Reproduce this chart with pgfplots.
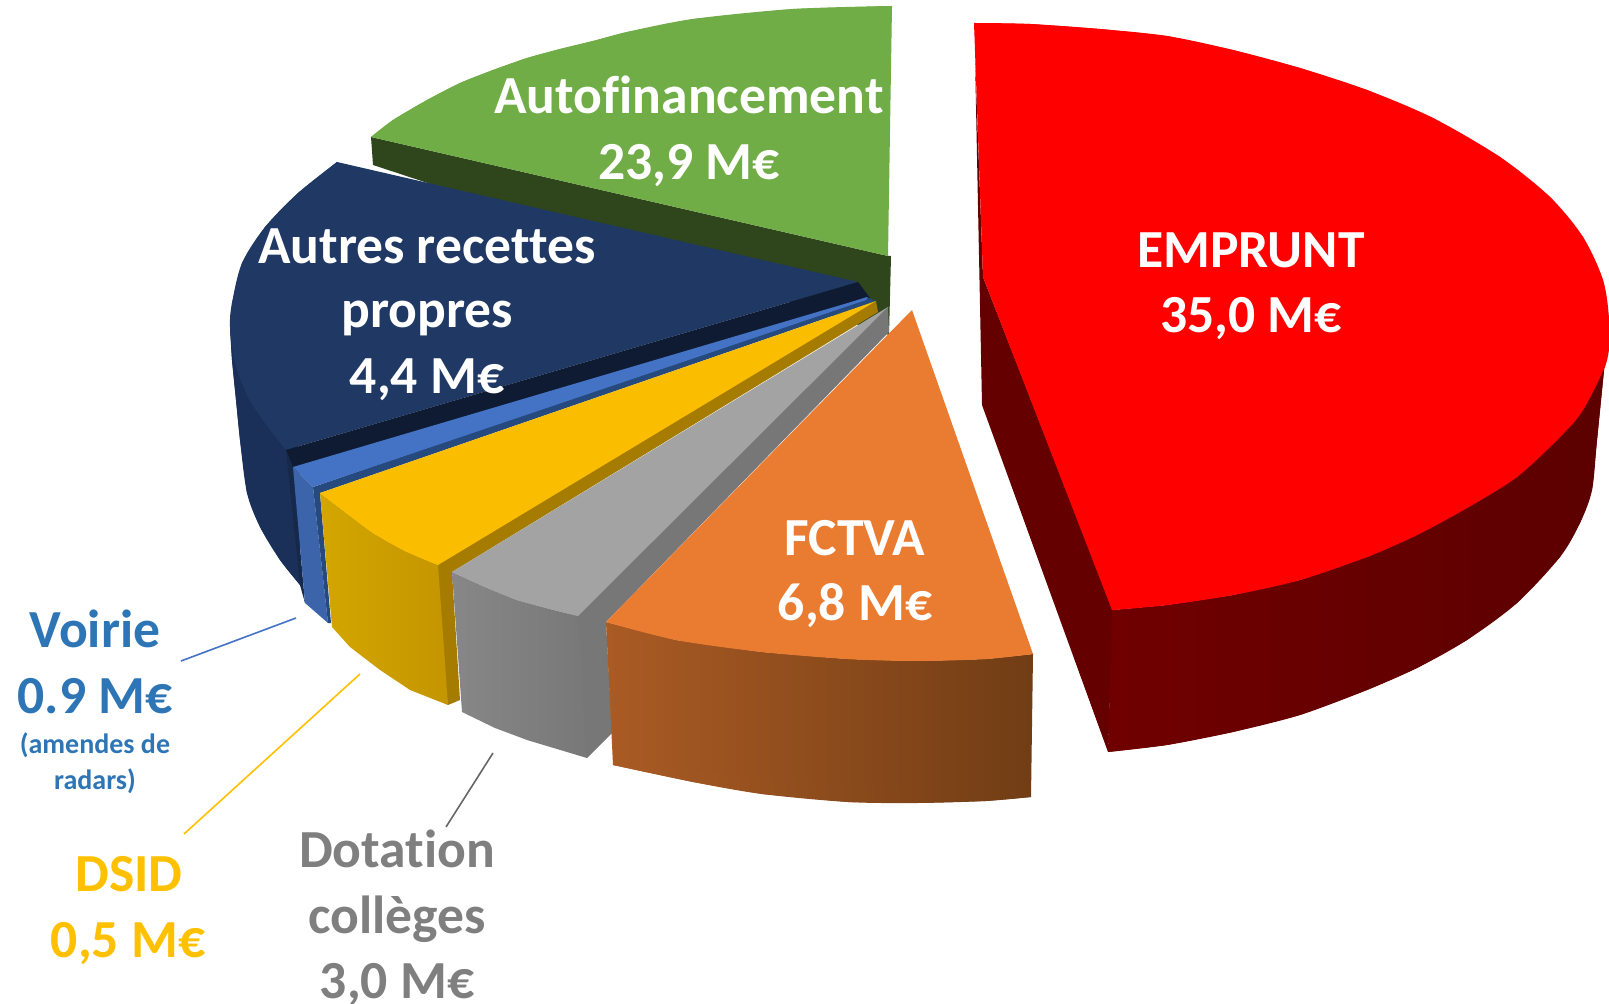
\documentclass[border=0pt]{standalone}
\usepackage{pgfplots}
\pgfplotsset{compat=1.18}
\usepackage{fontspec}
\setmainfont{Carlito}[Ligatures=NoCommon]
\definecolor{cgreen}{HTML}{70AD47}
\definecolor{cgreenw}{HTML}{2F451C}
\definecolor{cnavy}{HTML}{1F3864}
\definecolor{cnavys}{HTML}{1B3059}
\definecolor{cnavyf}{HTML}{16294A}
\definecolor{cnavyd}{HTML}{0E1B33}
\definecolor{cblue}{HTML}{4472C4}
\definecolor{cblues}{HTML}{3C64AA}
\definecolor{cbluew}{HTML}{264A7D}
\definecolor{cyel}{HTML}{FBBD00}
\definecolor{cyell}{HTML}{D4A600}
\definecolor{cyelr}{HTML}{C49500}
\definecolor{cyeld}{HTML}{A67C00}
\definecolor{cgrey}{HTML}{A3A3A3}
\definecolor{cgreyl}{HTML}{878787}
\definecolor{cgreyr}{HTML}{787878}
\definecolor{cgreyd}{HTML}{777777}
\definecolor{corg}{HTML}{EA7C32}
\definecolor{corgl}{HTML}{AA5B24}
\definecolor{corgr}{HTML}{713D15}
\definecolor{cred}{HTML}{FE0000}
\definecolor{credl}{HTML}{700000}
\definecolor{credr}{HTML}{5C0000}
\definecolor{credw}{HTML}{640000}
\definecolor{tblue}{HTML}{2E75B6}
\definecolor{tyel}{HTML}{FFC000}
\definecolor{tgrey}{HTML}{7F7F7F}
\newcommand{\lab}[4]{\node[anchor=base,inner sep=0pt,text=#3,font=\fontsize{26.8}{30}\selectfont\bfseries] at (axis cs:#1,#2) {#4};}
\newcommand{\slab}[4]{\node[anchor=base,inner sep=0pt,text=#3,font=\fontsize{14}{16}\selectfont\bfseries] at (axis cs:#1,#2) {#4};}
\begin{document}
\begin{tikzpicture}
\path[use as bounding box] (0,0) rectangle (804.5pt,502pt);
\begin{axis}[
  anchor=south west,at={(0,0)},
  x=0.5pt,y=0.5pt,y dir=reverse,
  xmin=0,xmax=1609,ymin=0,ymax=1004,
  hide axis,no markers,clip=true,
  every axis plot/.append style={draw=none,line width=0pt},
]
% Autofinancement
\addplot[fill=cgreenw] coordinates {(371,137)(888,256)(891,256)(889,335)(373,165)} --cycle;
\addplot[fill=cgreen] coordinates {(371,137)(393,120)(427,100)(460,83)(493,70)(527,58)(560,49)(593,41)(627,32)(693,19)(793,9)(892,6)(890,130)(888,256)} --cycle;
\addplot[fill=cgreen,smooth] coordinates {(371,137)(393,120)(427,100)(460,83)(493,70)(527,58)(560,49)(593,41)(627,32)(693,19)(793,9)(892,6)} --cycle;
% Autres recettes propres
\addplot[fill=cnavys] coordinates {(230,327)(232,360)(236,400)(240,440)(247,493)(260,527)(280,560)(300,585)(300,450)} --cycle;
\addplot[fill=cnavys,smooth] coordinates {(230,327)(232,360)(236,400)(240,440)(247,493)(260,527)(280,560)(300,585)} --cycle;
\addplot[fill=cnavy] coordinates {(337,162)(858,282)(286,450)(265,423)(248,397)(235,363)(230,327)(232,303)(242,263)(265,227)(298,193)} --cycle;
\addplot[fill=cnavy,smooth] coordinates {(286,450)(265,423)(248,397)(235,363)(230,327)(232,303)(242,263)(265,227)(298,193)(337,162)} --cycle;
\addplot[fill=cnavyd] coordinates {(858,282)(870,298)(293,468)(286,450)} --cycle;
\addplot[fill=cnavyf] coordinates {(286,450)(293,467)(305,603)(300,585)} --cycle;
% Voirie
\addplot[fill=cblues] coordinates {(293,467)(313,487)(328,623)(305,603)} --cycle;
\addplot[fill=cbluew] coordinates {(866,297)(876,301)(320,493)(331,623)(328,623)(313,487)} --cycle;
\addplot[fill=cblue] coordinates {(293,467)(868,297)(866,300)(313,487)} --cycle;
% DSID
\addplot[fill=cyeld] coordinates {(876,301)(878,312)(452,572)(460,700)(448,705)(432,600)(434,560)} --cycle;
\addplot[draw=none,left color=cyell,right color=cyelr] coordinates {(320,493)(345,512)(373,533)(405,551)(438,565)(448,705)(410,690)(380,670)(350,647)(332,627)} --cycle;
\addplot[fill=cyel] coordinates {(320,493)(876,301)(438,565)(405,551)(373,533)(345,512)} --cycle;
\addplot[fill=cyel,smooth] coordinates {(320,493)(345,512)(373,533)(405,551)(438,565)} --cycle;
% Dotation colleges
\addplot[fill=cgreyd] coordinates {(888,307)(889,332)(606,622)(612,733)(587,758)(560,700)(560,625)} --cycle;
\addplot[draw=none,left color=cgreyl,right color=cgreyr] coordinates {(452,572)(485,587)(517,600)(550,609)(578,616)(587,758)(527,740)(495,728)(462,712)} --cycle;
\addplot[fill=cgrey] coordinates {(452,572)(888,307)(578,616)(550,609)(517,600)(485,587)} --cycle;
\addplot[fill=cgrey,smooth] coordinates {(452,572)(485,587)(517,600)(550,609)(578,616)} --cycle;
% FCTVA
\addplot[draw=none,left color=corgl,right color=corgr] coordinates {(606,622)(676,640)(762,652)(848,659)(917,661)(986,659)(1033,654)(1031,797)(986,801)(917,803)(848,802)(762,794)(693,782)(613,765)} --cycle;
\addplot[draw=none,left color=corgl,right color=corgr,smooth] coordinates {(613,765)(693,782)(762,794)(848,802)(917,803)(986,801)(1031,797)} --cycle;
\addplot[fill=corg] coordinates {(912,310)(1033,654)(986,659)(917,661)(848,659)(762,652)(676,640)(606,622)} --cycle;
\addplot[fill=corg,smooth] coordinates {(1033,654)(986,659)(917,661)(848,659)(762,652)(676,640)(606,622)} --cycle;
% Emprunt
\addplot[fill=credw] coordinates {(975,57)(983,277)(1113,610)(1108,752)(982,405)} --cycle;
\addplot[draw=none,left color=credl,right color=credr] coordinates {(1112,610)(1167,605)(1233,595)(1300,580)(1367,557)(1417,535)(1467,508)(1517,477)(1560,437)(1583,410)(1605,360)(1597,440)(1592,490)(1580,523)(1560,557)(1517,603)(1467,640)(1417,668)(1367,690)(1300,715)(1233,732)(1167,745)(1108,752)} --cycle;
\addplot[draw=none,left color=credl,right color=credr,smooth] coordinates {(1605,360)(1597,440)(1592,490)(1580,523)(1560,557)(1517,603)(1467,640)(1417,668)(1367,690)(1300,715)(1233,732)(1167,745)(1108,752)} --cycle;
\addplot[fill=cred] coordinates {(974,23)(1030,24)(1100,29)(1167,36)(1233,50)(1300,68)(1367,90)(1433,118)(1500,157)(1550,197)(1583,237)(1603,280)(1609,320)(1607,360)(1605,367)(1583,410)(1560,437)(1517,477)(1467,508)(1417,535)(1367,557)(1300,580)(1233,595)(1167,605)(1112,610)(983,277)} --cycle;
\addplot[fill=cred,smooth] coordinates {(974,23)(1030,24)(1100,29)(1167,36)(1233,50)(1300,68)(1367,90)(1433,118)(1500,157)(1550,197)(1583,237)(1603,280)(1609,320)(1607,360)(1583,410)(1560,437)(1517,477)(1467,508)(1417,535)(1367,557)(1300,580)(1233,595)(1167,605)(1112,610)} --cycle;
% leader lines
\addplot[draw=cblue,line width=0.8pt] coordinates {(181,661)(296,618)};
\addplot[draw=tyel,line width=0.8pt] coordinates {(184,834)(360,674)};
\addplot[draw=black!60,line width=0.8pt] coordinates {(446,827)(493,753)};
% labels
\lab{689}{114}{white}{Autofinancement}
\lab{689}{180}{white}{23,9 M€}
\lab{427}{264}{white}{Autres recettes}
\lab{427}{328}{white}{propres}
\lab{427}{394}{white}{4,4 M€}
\lab{1251}{268}{white}{EMPRUNT}
\lab{1251}{333}{white}{35,0 M€}
\lab{855}{555}{white}{FCTVA}
\lab{855}{620}{white}{6,8 M€}
\lab{95}{647}{tblue}{Voirie}
\lab{95}{713}{tblue}{0.9 M€}
\slab{95}{753}{tblue}{(amendes de}
\slab{95}{789}{tblue}{radars)}
\lab{129}{891}{tyel}{DSID}
\lab{128}{957}{tyel}{0,5 M€}
\lab{397}{867}{tgrey}{Dotation}
\lab{397}{933}{tgrey}{collèges}
\lab{397}{998}{tgrey}{3,0 M€}
\end{axis}
\end{tikzpicture}
\end{document}
